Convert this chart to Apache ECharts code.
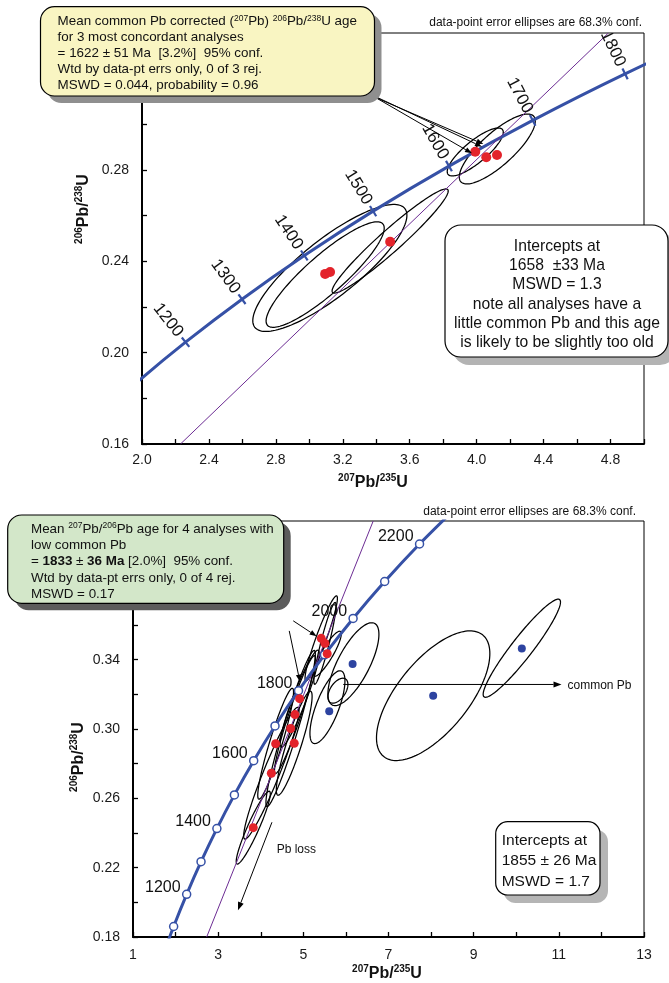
<!DOCTYPE html>
<html><head><meta charset="utf-8">
<script src="https://cdn.jsdelivr.net/npm/echarts@6/dist/echarts.min.js"></script>
<style>html,body{margin:0;padding:0;background:#fff}#c{width:669px;height:983px}</style>
</head><body><div id="c"></div>
<script>
// ---- concordia reference points (age in Ma, 207Pb/235U, 206Pb/238U) ----
const concAges = [1000,1100,1200,1300,1400,1500,1600,1700,1800,1900,2000,2100,2200,2300];
const concX = [1.6774,1.9545,2.2603,2.5977,2.9701,3.3810,3.8344,4.3348,4.8869,5.4962,6.1685,6.9104,7.7292,8.6327];
const concY = [0.16780,0.18606,0.20460,0.22343,0.24256,0.26199,0.28172,0.30175,0.32211,0.34277,0.36377,0.38509,0.40674,0.42873];
const topTickAges = [1100,1200,1300,1400,1500,1600,1700,1800,1900];
const bottomLabelAges = [1200,1400,1600,1800,2000,2200];

// ---- discordia lines ----
const topDiscordiaX = [2.23, 4.787];
const topDiscordiaY = [0.16, 0.34];
const botDiscordiaX = [2.73, 6.641];
const botDiscordiaY = [0.18, 0.42];

// ---- top chart data points ----
const topDotsX = [3.0945, 3.124, 3.483, 3.9916, 4.0574, 4.1214];
const topDotsY = [0.2345, 0.2353, 0.2486, 0.2880, 0.2856, 0.2866];
// ellipses: [centre x, centre y, half x-extent, half y-extent, error correlation]
const topEllipses = [
  [3.1226, 0.2371, 0.4605, 0.0278, 0.83],
  [3.0945, 0.2342, 0.353, 0.0231, 0.88],
  [3.483, 0.2489, 0.347, 0.0228, 0.96],
  [3.9916, 0.2879, 0.1675, 0.0105, 0.82],
  [4.1232, 0.2892, 0.227, 0.0153, 0.80]
];

// ---- bottom chart data points ----
const botRedX = [5.420, 5.507, 5.561, 4.913, 4.803, 4.702, 4.350, 4.786, 4.249, 3.824];
const botRedY = [0.3523, 0.3494, 0.3434, 0.3175, 0.3083, 0.3003, 0.2915, 0.2918, 0.2745, 0.2431];
const botBlueX = [6.157, 5.608, 8.049, 10.131];
const botBlueY = [0.3375, 0.3102, 0.3192, 0.3465];
const botEllipses = [
  [5.420, 0.3523, 0.38, 0.0245, 0.94],
  [5.507, 0.3494, 0.26, 0.0236, 0.92],
  [5.561, 0.3434, 0.33, 0.013, 0.88],
  [4.913, 0.3175, 0.46, 0.028, 0.93],
  [4.803, 0.3083, 0.48, 0.034, 0.95],
  [4.702, 0.3003, 0.58, 0.045, 0.95],
  [4.350, 0.2915, 0.42, 0.032, 0.93],
  [4.786, 0.2918, 0.42, 0.030, 0.90],
  [4.249, 0.2745, 0.65, 0.038, 0.95],
  [3.824, 0.2431, 0.40, 0.021, 0.93],
  [6.176, 0.3374, 0.599, 0.0239, 0.72],
  [5.566, 0.3126, 0.411, 0.021, 0.72],
  [8.049, 0.3192, 1.331, 0.0374, 0.65],
  [10.131, 0.3466, 0.908, 0.0283, 0.94],
  [5.812, 0.3221, 0.235, 0.0072, 0.5]
];

const BLUE = '#3651a6', RED = '#e3232b', DBLUE = '#2d43a0', PURPLE = '#6c2c93';
const FONT = '"Liberation Sans", Arial, sans-serif';

const chart = echarts.init(document.getElementById('c'));

function concPts(maxAge) {
  const out = [];
  for (let i = 0; i < concAges.length; i++) if (concAges[i] <= maxAge) out.push([concX[i], concY[i]]);
  return out;
}
function zip(a, b) { return a.map((v, i) => [v, b[i]]); }

function ellipseItem(params, api) {
  const cx = api.value(0), cy = api.value(1), hx = api.value(2), hy = api.value(3), r = api.value(4);
  const s = Math.sqrt(Math.max(0, 1 - r * r));
  const pts = [];
  for (let k = 0; k < 144; k++) {
    const t = k / 144 * Math.PI * 2;
    pts.push(api.coord([cx + hx * Math.cos(t), cy + hy * (r * Math.cos(t) + s * Math.sin(t))]));
  }
  return { type: 'polygon', shape: { points: pts }, style: { fill: 'none', stroke: '#000', lineWidth: 1.25 } };
}

function tickItem(params, api) {
  const p = api.coord([api.value(0), api.value(1)]);
  const a = api.coord([api.value(2), api.value(3)]);
  const b = api.coord([api.value(4), api.value(5)]);
  let dx = b[0] - a[0], dy = b[1] - a[1];
  const L = Math.hypot(dx, dy); dx /= L; dy /= L;
  const nx = dy, ny = -dx;
  const rot = -Math.atan2(-ny, -nx);
  return { type: 'group', children: [
    { type: 'line', shape: { x1: p[0] - nx * 6, y1: p[1] - ny * 6, x2: p[0] + nx * 6, y2: p[1] + ny * 6 },
      style: { stroke: BLUE, lineWidth: 2.2 } },
    { type: 'text', x: p[0] + nx * 28, y: p[1] + ny * 28, rotation: rot,
      style: { text: String(api.value(6)), fontSize: 17, fontFamily: FONT, fill: '#111', align: 'center', verticalAlign: 'middle' } }
  ] };
}

function ageLabelItem(params, api) {
  const p = api.coord([api.value(0), api.value(1)]);
  return { type: 'text', x: p[0] - 6, y: p[1] - 7,
    style: { text: String(api.value(2)), fontSize: 16, fontFamily: FONT, fill: '#111', align: 'right', verticalAlign: 'middle' } };
}

const topTickData = topTickAges.map(age => {
  const i = concAges.indexOf(age);
  return [concX[i], concY[i], concX[i - 1], concY[i - 1], concX[i + 1], concY[i + 1], age];
});
const botLabelData = bottomLabelAges.map(age => {
  const i = concAges.indexOf(age);
  return [concX[i], concY[i], age];
});

function axisCommon(fmt, margin, showMax) {
  return {
    type: 'value',
    axisLine: { onZero: false, lineStyle: { color: '#000', width: 2 } },
    axisTick: { inside: true, length: 5, lineStyle: { color: '#000', width: 1.3 } },
    minorTick: { show: true, splitNumber: 2, length: 5, lineStyle: { color: '#000', width: 1.3 } },
    splitLine: { show: false }, minorSplitLine: { show: false },
    axisLabel: { formatter: fmt, fontSize: 14, fontFamily: FONT, color: '#1a1a1a', margin: margin, showMaxLabel: showMax }
  };
}

const option = {
  animation: false,
  grid: [
    { left: 142, top: 33, width: 502, height: 411, show: true, borderColor: '#000', borderWidth: 1, backgroundColor: 'transparent' },
    { left: 133, top: 521, width: 511, height: 416, show: true, borderColor: '#000', borderWidth: 1, backgroundColor: 'transparent' }
  ],
  xAxis: [
    Object.assign(axisCommon(v => v.toFixed(1), 9, false), { gridIndex: 0, min: 2.0, max: 5.0, interval: 0.4 }),
    Object.assign(axisCommon(v => String(Math.round(v)), 11, true), { gridIndex: 1, min: 1, max: 13, interval: 2 })
  ],
  yAxis: [
    Object.assign(axisCommon(v => v.toFixed(2), 13, false), { gridIndex: 0, min: 0.16, max: 0.34, interval: 0.04 }),
    Object.assign(axisCommon(v => v.toFixed(2), 13, false), { gridIndex: 1, min: 0.18, max: 0.42, interval: 0.04 })
  ],
  series: [
    // top chart
    { type: 'custom', xAxisIndex: 0, yAxisIndex: 0, renderItem: ellipseItem, data: topEllipses, encode: { x: 0, y: 1 }, clip: true, z: 2, silent: true },
    { type: 'line', xAxisIndex: 0, yAxisIndex: 0, data: concPts(2000), showSymbol: false, smooth: 0.25,
      lineStyle: { color: BLUE, width: 3 }, z: 3, silent: true },
    { type: 'line', xAxisIndex: 0, yAxisIndex: 0, data: zip(topDiscordiaX, topDiscordiaY), showSymbol: false,
      lineStyle: { color: PURPLE, width: 1 }, z: 3, silent: true },
    { type: 'custom', xAxisIndex: 0, yAxisIndex: 0, renderItem: tickItem, data: topTickData, encode: { x: 0, y: 1 }, clip: true, z: 4, silent: true },
    { type: 'scatter', xAxisIndex: 0, yAxisIndex: 0, data: zip(topDotsX, topDotsY), symbolSize: 10,
      itemStyle: { color: RED, opacity: 1 }, z: 5, silent: true },
    // bottom chart
    { type: 'custom', xAxisIndex: 1, yAxisIndex: 1, renderItem: ellipseItem, data: botEllipses, encode: { x: 0, y: 1 }, clip: true, z: 2, silent: true },
    { type: 'line', xAxisIndex: 1, yAxisIndex: 1, data: zip(botDiscordiaX, botDiscordiaY), showSymbol: false,
      lineStyle: { color: PURPLE, width: 1 }, z: 3, silent: true },
    { type: 'line', xAxisIndex: 1, yAxisIndex: 1, data: concPts(2300), showSymbol: true, showAllSymbol: true, symbol: 'circle', symbolSize: 8,
      smooth: 0.25, lineStyle: { color: BLUE, width: 3 },
      itemStyle: { color: '#fff', borderColor: BLUE, borderWidth: 1.5 }, z: 4, silent: true },
    { type: 'custom', xAxisIndex: 1, yAxisIndex: 1, renderItem: ageLabelItem, data: botLabelData, encode: { x: 0, y: 1 }, clip: true, z: 4, silent: true },
    { type: 'scatter', xAxisIndex: 1, yAxisIndex: 1, data: zip(botRedX, botRedY), symbolSize: 9,
      itemStyle: { color: RED, opacity: 1 }, z: 5, silent: true },
    { type: 'scatter', xAxisIndex: 1, yAxisIndex: 1, data: zip(botBlueX, botBlueY), symbolSize: 8,
      itemStyle: { color: DBLUE, opacity: 1 }, z: 5, silent: true }
  ]
};
chart.setOption(option);

// ---------- annotations ----------
const G = [];
function px(gi, x, y) { return chart.convertToPixel({ gridIndex: gi }, [x, y]); }
function arrow(p1, p2, head, w) {
  head = head || 8; w = w || 3;
  const dx = p2[0] - p1[0], dy = p2[1] - p1[1], L = Math.hypot(dx, dy), ux = dx / L, uy = dy / L;
  const bx = p2[0] - ux * head, by = p2[1] - uy * head;
  G.push({ type: 'line', z: 50, shape: { x1: p1[0], y1: p1[1], x2: bx, y2: by }, style: { stroke: '#000', lineWidth: 1 } });
  G.push({ type: 'polygon', z: 50, shape: { points: [[p2[0], p2[1]], [bx - uy * w, by + ux * w], [bx + uy * w, by - ux * w]] }, style: { fill: '#000' } });
}
function txt(x, y, text, opts) {
  G.push({ type: 'text', x: x, y: y, z: opts.z || 120, rotation: opts.rotation || 0,
    style: Object.assign({ text: text, fontFamily: FONT, fill: '#111' }, opts.style) });
}
function box(x, y, w, h, r, fill, shadow, off) {
  G.push({ type: 'rect', z: 100, shape: { x: x + off, y: y + off, width: w, height: h, r: r }, style: { fill: shadow } });
  G.push({ type: 'rect', z: 101, shape: { x: x, y: y, width: w, height: h, r: r }, style: { fill: fill, stroke: '#000', lineWidth: 1.2 } });
}
function titleRich(size, sup) {
  return {
    b: { fontSize: size, fontWeight: 'bold', fontFamily: FONT, lineHeight: size + 3, fill: '#111' },
    s: { fontSize: sup, fontWeight: 'bold', fontFamily: FONT, lineHeight: sup + 2, verticalAlign: 'top', fill: '#111' }
  };
}
function boxRich(size, sup) {
  return {
    s: { fontSize: sup, fontFamily: FONT, lineHeight: sup + 2, verticalAlign: 'top', fill: '#111' },
    bo: { fontSize: size, fontWeight: 'bold', fontFamily: FONT, fill: '#111' }
  };
}

// top-right notes
txt(642, 22.7, 'data-point error ellipses are 68.3% conf.', { style: { fontSize: 12, align: 'right', verticalAlign: 'middle' } });
txt(636, 511.7, 'data-point error ellipses are 68.3% conf.', { style: { fontSize: 12, align: 'right', verticalAlign: 'middle' } });

// axis titles
txt(373, 483, '{s|207}{b|Pb/}{s|235}{b|U}', { style: { rich: titleRich(16, 10), align: 'center', verticalAlign: 'middle' } });
txt(387, 974, '{s|207}{b|Pb/}{s|235}{b|U}', { style: { rich: titleRich(16, 10), align: 'center', verticalAlign: 'middle' } });
txt(84, 209, '{s|206}{b|Pb/}{s|238}{b|U}', { rotation: Math.PI / 2, style: { rich: titleRich(16, 10), align: 'center', verticalAlign: 'middle' } });
txt(79, 757, '{s|206}{b|Pb/}{s|238}{b|U}', { rotation: Math.PI / 2, style: { rich: titleRich(16, 10), align: 'center', verticalAlign: 'middle' } });

// top arrows from the yellow box to the three concordant points
const d1 = px(0, topDotsX[3], topDotsY[3]);
arrow([366, 92], [d1[0] - 3.3, d1[1] + 1.6], 7, 2.6);
arrow([370, 94], [d1[0] + 6.7, d1[1] - 5], 7, 2.6);
arrow([372, 96], [d1[0] + 8, d1[1] - 7.7], 7, 2.6);

// yellow box
box(40.5, 6.7, 334, 89.3, 14, '#f9f5c2', '#8f8f8f', 7);
txt(57.6, 13.7,
  'Mean common Pb corrected ({s|207}Pb) {s|206}Pb/{s|238}U age\n' +
  'for 3 most concordant analyses\n' +
  '= 1622 ± 51 Ma  [3.2%]  95% conf.\n' +
  'Wtd by data-pt errs only, 0 of 3 rej.\n' +
  'MSWD = 0.044, probability = 0.96',
  { z: 102, style: { fontSize: 13.4, lineHeight: 16, rich: boxRich(13.4, 8.5), align: 'left', verticalAlign: 'top' } });

// top intercept box
box(445, 225, 223, 132, 16, '#fff', '#b3b3b3', 8);
txt(557, 237.1,
  'Intercepts at\n1658  ±33 Ma\nMSWD = 1.3\nnote all analyses have a\nlittle common Pb and this age\nis likely to be slightly too old',
  { z: 102, style: { fontSize: 15.7, lineHeight: 19.2, align: 'center', verticalAlign: 'top' } });

// bottom arrows
arrow(px(1, 4.763, 0.3624), px(1, 5.312, 0.3535), 7, 2.6);
arrow(px(1, 4.669, 0.3566), px(1, 4.920, 0.3273), 7, 2.6);
const cp1 = px(1, 5.937, 0.3257), cp2 = px(1, 11.063, 0.3257);
arrow(cp1, cp2, 8, 3);
txt(cp2[0] + 6, cp2[1] + 1, 'common Pb', { style: { fontSize: 12, align: 'left', verticalAlign: 'middle' } });
arrow(px(1, 4.263, 0.2462), px(1, 3.465, 0.1955), 8, 3);
const pl = px(1, 4.373, 0.2305);
txt(pl[0], pl[1], 'Pb loss', { style: { fontSize: 12, align: 'left', verticalAlign: 'middle' } });

// green box
box(7.7, 515, 276, 88.3, 14, '#d3e7c9', '#5c5c5c', 7);
txt(31, 520.8,
  'Mean {s|207}Pb/{s|206}Pb age for 4 analyses with\n' +
  'low common Pb\n' +
  '= {bo|1833} ± {bo|36 Ma} [2.0%]  95% conf.\n' +
  'Wtd by data-pt errs only, 0 of 4 rej.\n' +
  'MSWD = 0.17',
  { z: 102, style: { fontSize: 13.4, lineHeight: 16.3, rich: boxRich(13.4, 8.5), align: 'left', verticalAlign: 'top' } });

// bottom intercept box
box(495.7, 821.7, 104.3, 73.3, 12, '#fff', '#b5b5b5', 8);
txt(501.7, 830.5, 'Intercepts at\n1855 ± 26 Ma\nMSWD = 1.7',
  { z: 102, style: { fontSize: 15.5, lineHeight: 20.3, align: 'left', verticalAlign: 'top' } });

chart.setOption({ graphic: { elements: G } });
</script>
</body></html>
